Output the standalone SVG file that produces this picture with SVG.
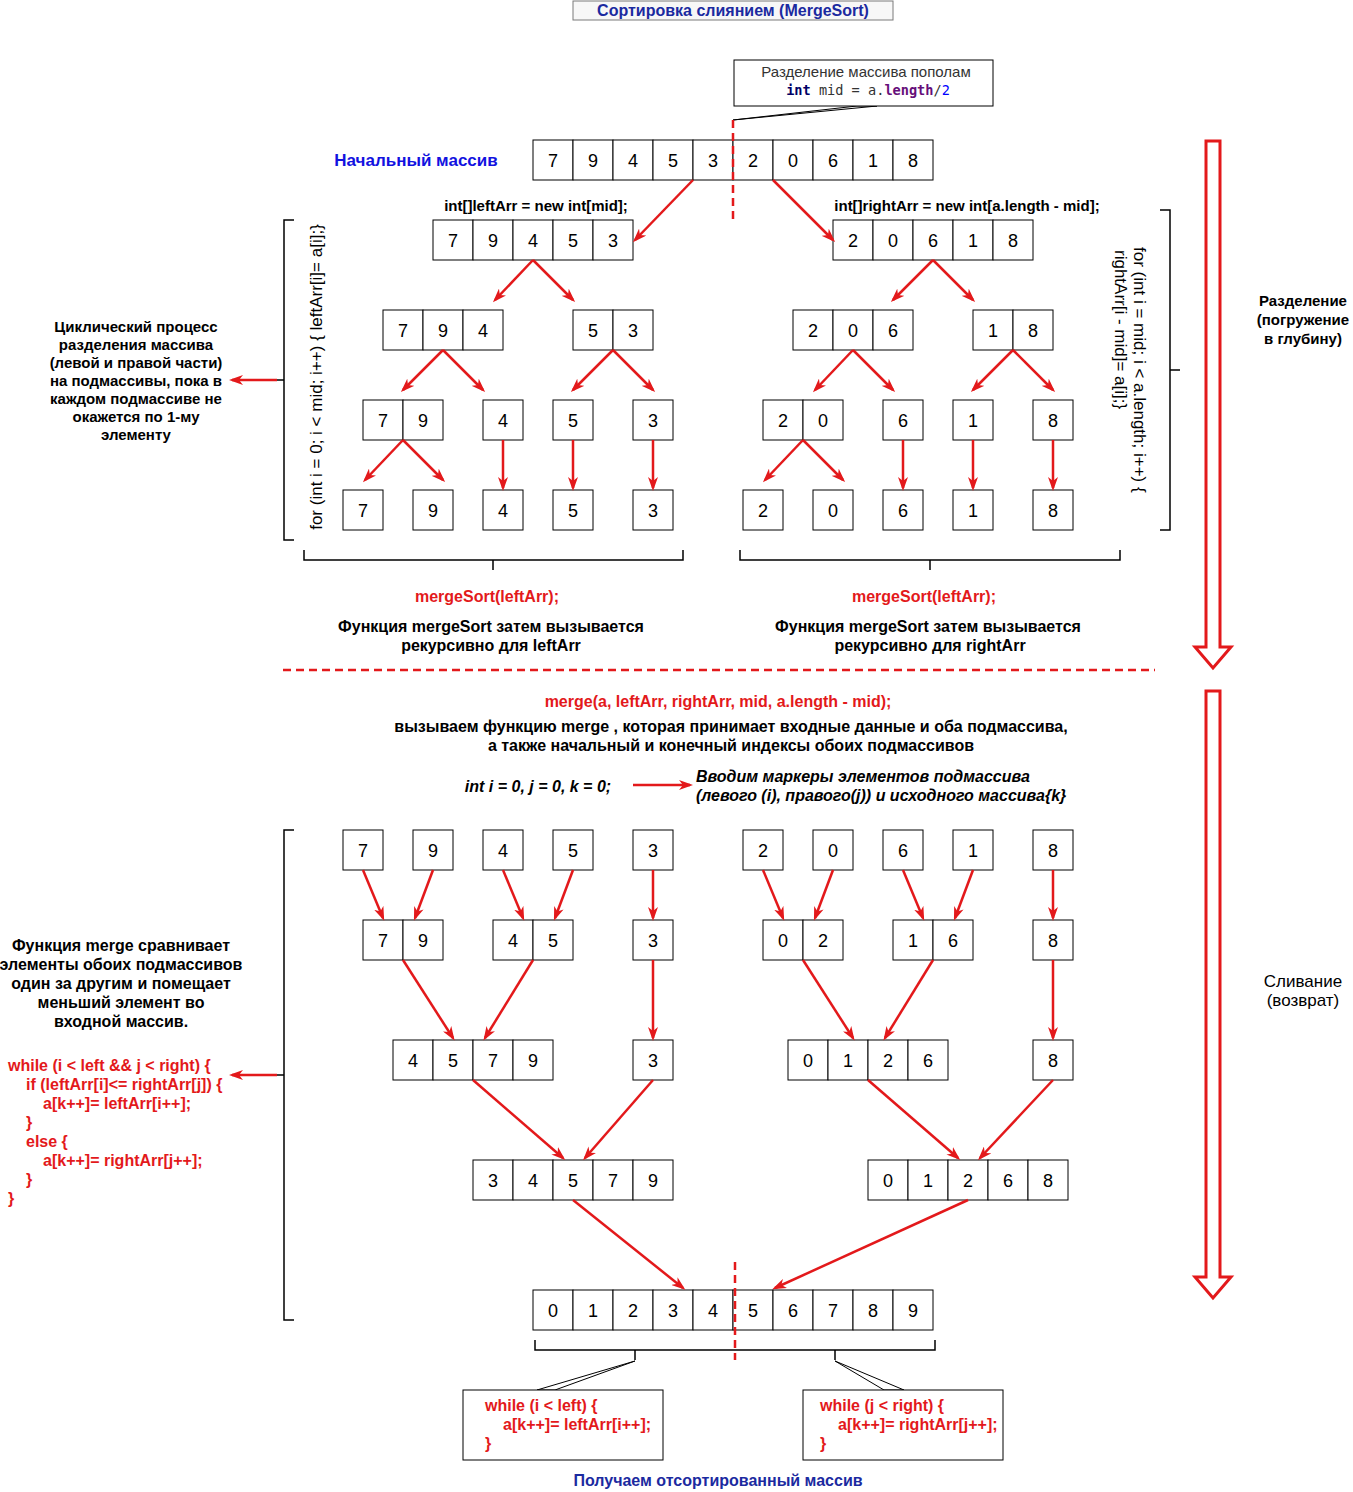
<svg xmlns="http://www.w3.org/2000/svg" width="1353" height="1492" viewBox="0 0 1353 1492">
<style>
text{font-family:"Liberation Sans",Arial,sans-serif;fill:#000}
.c{fill:#fff;stroke:#000;stroke-width:1}
.n{font-size:18px;text-anchor:middle}
.b{font-weight:bold}
.m{text-anchor:middle}
.r{fill:#e3191b}
.e{stroke:#e3191b;stroke-width:2.5;fill:none;marker-end:url(#ah)}
.k{stroke:#000;stroke-width:1.5;fill:none}
.d{stroke:#e3191b;stroke-width:2.5;stroke-dasharray:8 5;fill:none}
.box{fill:#fff;stroke:#000;stroke-width:1}
.big{fill:#fff;stroke:#e3191b;stroke-width:3}
.f16{font-size:16px}
.f15{font-size:15px}
</style>
<defs>
<marker id="ah" viewBox="0 0 14 10" refX="11" refY="5" markerWidth="14" markerHeight="10" orient="auto" markerUnits="userSpaceOnUse">
<path d="M0,0 L14,5 L0,10 L4,5 z" fill="#e3191b"/>
</marker>
</defs>
<rect width="1353" height="1492" fill="#fff"/>

<g id="title">
<rect x="573" y="1" width="320" height="19" fill="#f7f7f7" stroke="#7a7a7a" stroke-width="1"/>
<text x="733" y="16" class="m b f16" style="fill:#1b2aa0">Сортировка слиянием (MergeSort)</text>
</g>

<g id="callout-mid">
<polygon points="733,120 857,106 877,106" class="box"/>
<rect x="734" y="60" width="259" height="46" class="box"/>
<text x="866" y="77" class="m f15" style="fill:#333">Разделение массива пополам</text>
<text x="868" y="95" class="m" style="font-size:13.6px;font-family:'DejaVu Sans Mono','Liberation Mono',monospace;fill:#333"><tspan style="font-weight:bold;fill:#000066">int</tspan> mid = a.<tspan style="font-weight:bold;fill:#660e7a">length</tspan>/<tspan style="fill:#0000ff">2</tspan></text>
</g>

<g id="label-initial">
<text x="416" y="166" class="m b" style="font-size:17px;fill:#1212e0">Начальный массив</text>
</g>

<g id="arr-initial">
<rect x="533" y="140" width="40" height="40" class="c"/><rect x="573" y="140" width="40" height="40" class="c"/><rect x="613" y="140" width="40" height="40" class="c"/><rect x="653" y="140" width="40" height="40" class="c"/><rect x="693" y="140" width="40" height="40" class="c"/><rect x="733" y="140" width="40" height="40" class="c"/><rect x="773" y="140" width="40" height="40" class="c"/><rect x="813" y="140" width="40" height="40" class="c"/><rect x="853" y="140" width="40" height="40" class="c"/><rect x="893" y="140" width="40" height="40" class="c"/>
<text y="167" class="n"><tspan x="553">7</tspan><tspan x="593">9</tspan><tspan x="633">4</tspan><tspan x="673">5</tspan><tspan x="713">3</tspan><tspan x="753">2</tspan><tspan x="793">0</tspan><tspan x="833">6</tspan><tspan x="873">1</tspan><tspan x="913">8</tspan></text>
</g>

<g id="label-leftArr"><text x="536" y="211" class="m b f15">int[]leftArr = new int[mid];</text></g>
<g id="label-rightArr"><text x="967" y="211" class="m b f15">int[]rightArr = new int[a.length - mid];</text></g>

<g id="arr-left">
<rect x="433" y="220" width="40" height="40" class="c"/><rect x="473" y="220" width="40" height="40" class="c"/><rect x="513" y="220" width="40" height="40" class="c"/><rect x="553" y="220" width="40" height="40" class="c"/><rect x="593" y="220" width="40" height="40" class="c"/>
<text y="247" class="n"><tspan x="453">7</tspan><tspan x="493">9</tspan><tspan x="533">4</tspan><tspan x="573">5</tspan><tspan x="613">3</tspan></text>
</g>
<g id="arr-right">
<rect x="833" y="220" width="40" height="40" class="c"/><rect x="873" y="220" width="40" height="40" class="c"/><rect x="913" y="220" width="40" height="40" class="c"/><rect x="953" y="220" width="40" height="40" class="c"/><rect x="993" y="220" width="40" height="40" class="c"/>
<text y="247" class="n"><tspan x="853">2</tspan><tspan x="893">0</tspan><tspan x="933">6</tspan><tspan x="973">1</tspan><tspan x="1013">8</tspan></text>
</g>

<g id="s2-794">
<rect x="383" y="310" width="40" height="40" class="c"/><rect x="423" y="310" width="40" height="40" class="c"/><rect x="463" y="310" width="40" height="40" class="c"/>
<text y="337" class="n"><tspan x="403">7</tspan><tspan x="443">9</tspan><tspan x="483">4</tspan></text>
</g>
<g id="s2-53">
<rect x="573" y="310" width="40" height="40" class="c"/><rect x="613" y="310" width="40" height="40" class="c"/>
<text y="337" class="n"><tspan x="593">5</tspan><tspan x="633">3</tspan></text>
</g>
<g id="s2-206">
<rect x="793" y="310" width="40" height="40" class="c"/><rect x="833" y="310" width="40" height="40" class="c"/><rect x="873" y="310" width="40" height="40" class="c"/>
<text y="337" class="n"><tspan x="813">2</tspan><tspan x="853">0</tspan><tspan x="893">6</tspan></text>
</g>
<g id="s2-18">
<rect x="973" y="310" width="40" height="40" class="c"/><rect x="1013" y="310" width="40" height="40" class="c"/>
<text y="337" class="n"><tspan x="993">1</tspan><tspan x="1033">8</tspan></text>
</g>

<g id="s3-79">
<rect x="363" y="400" width="40" height="40" class="c"/><rect x="403" y="400" width="40" height="40" class="c"/>
<text y="427" class="n"><tspan x="383">7</tspan><tspan x="423">9</tspan></text>
</g>
<g id="s3-4"><rect x="483" y="400" width="40" height="40" class="c"/><text x="503" y="427" class="n">4</text></g>
<g id="s3-5"><rect x="553" y="400" width="40" height="40" class="c"/><text x="573" y="427" class="n">5</text></g>
<g id="s3-3"><rect x="633" y="400" width="40" height="40" class="c"/><text x="653" y="427" class="n">3</text></g>
<g id="s3-20">
<rect x="763" y="400" width="40" height="40" class="c"/><rect x="803" y="400" width="40" height="40" class="c"/>
<text y="427" class="n"><tspan x="783">2</tspan><tspan x="823">0</tspan></text>
</g>
<g id="s3-6"><rect x="883" y="400" width="40" height="40" class="c"/><text x="903" y="427" class="n">6</text></g>
<g id="s3-1"><rect x="953" y="400" width="40" height="40" class="c"/><text x="973" y="427" class="n">1</text></g>
<g id="s3-8"><rect x="1033" y="400" width="40" height="40" class="c"/><text x="1053" y="427" class="n">8</text></g>

<g id="s4-7"><rect x="343" y="490" width="40" height="40" class="c"/><text x="363" y="517" class="n">7</text></g>
<g id="s4-9"><rect x="413" y="490" width="40" height="40" class="c"/><text x="433" y="517" class="n">9</text></g>
<g id="s4-4"><rect x="483" y="490" width="40" height="40" class="c"/><text x="503" y="517" class="n">4</text></g>
<g id="s4-5"><rect x="553" y="490" width="40" height="40" class="c"/><text x="573" y="517" class="n">5</text></g>
<g id="s4-3"><rect x="633" y="490" width="40" height="40" class="c"/><text x="653" y="517" class="n">3</text></g>
<g id="s4-2"><rect x="743" y="490" width="40" height="40" class="c"/><text x="763" y="517" class="n">2</text></g>
<g id="s4-0"><rect x="813" y="490" width="40" height="40" class="c"/><text x="833" y="517" class="n">0</text></g>
<g id="s4-6"><rect x="883" y="490" width="40" height="40" class="c"/><text x="903" y="517" class="n">6</text></g>
<g id="s4-1"><rect x="953" y="490" width="40" height="40" class="c"/><text x="973" y="517" class="n">1</text></g>
<g id="s4-8"><rect x="1033" y="490" width="40" height="40" class="c"/><text x="1053" y="517" class="n">8</text></g>

<g id="brace-split-left">
<path d="M294,220 H284 V540 H294 M284,380 H277" class="k"/>
<text transform="translate(322,377) rotate(-90)" class="m" style="font-size:17px">for (int i = 0; i &lt; mid; i++) { leftArr[i]= a[i];}</text>
</g>
<g id="note-split">
<text class="m b f15"><tspan x="136" y="332">Циклический процесс</tspan><tspan x="136" y="350">разделения массива</tspan><tspan x="136" y="368">(левой и правой части)</tspan><tspan x="136" y="386">на подмассивы, пока в</tspan><tspan x="136" y="404">каждом подмассиве не</tspan><tspan x="136" y="422">окажется по 1-му</tspan><tspan x="136" y="440">элементу</tspan></text>
</g>
<g id="brace-split-right">
<path d="M1160,210 H1170 V530 H1160 M1170,370 H1180" class="k"/>
<text transform="translate(1134,247) rotate(90)" style="font-size:17px">for (int i = mid; i &lt; a.length; i++) {</text>
<text transform="translate(1115,250) rotate(90)" style="font-size:17px">rightArr[i - mid]= a[i];}</text>
</g>

<g id="arrow-split">
<polygon points="1206,141 1220,141 1220,647 1231,647 1213,668 1195,647 1206,647" class="big"/>
<text class="m b f15"><tspan x="1303" y="306">Разделение</tspan><tspan x="1303" y="325">(погружение</tspan><tspan x="1303" y="344">в глубину)</tspan></text>
</g>

<g id="brace-bottom-left">
<path d="M304,550 V560 H683 V550 M493,560 V570" class="k"/>
<text x="487" y="602" class="m b r f16">mergeSort(leftArr);</text>
<text class="m b f16"><tspan x="491" y="632">Функция mergeSort затем вызывается</tspan><tspan x="491" y="651">рекурсивно для leftArr</tspan></text>
</g>
<g id="brace-bottom-right">
<path d="M740,550 V560 H1120 V550 M930,560 V570" class="k"/>
<text x="924" y="602" class="m b r f16">mergeSort(leftArr);</text>
<text class="m b f16"><tspan x="928" y="632">Функция mergeSort затем вызывается</tspan><tspan x="930" y="651">рекурсивно для rightArr</tspan></text>
</g>

<g id="merge-intro">
<text x="718" y="707" class="m b r f16">merge(a, leftArr, rightArr, mid, a.length - mid);</text>
<text class="m b f16"><tspan x="731" y="732">вызываем функцию merge , которая принимает входные данные и оба подмассива,</tspan><tspan x="731" y="751">а также начальный и конечный индексы обоих подмассивов</tspan></text>
<text x="538" y="792" class="m b f16" style="font-style:italic">int i = 0, j = 0, k = 0;</text>
<text class="b f16" style="font-style:italic"><tspan x="696" y="782">Вводим маркеры элементов подмассива</tspan><tspan x="696" y="801">(левого (i), правого(j)) и исходного массива{k}</tspan></text>
</g>

<g id="arrow-merge">
<polygon points="1206,691 1220,691 1220,1277 1231,1277 1213,1298 1195,1277 1206,1277" class="big"/>
<text class="m" style="font-size:17px"><tspan x="1303" y="987">Сливание</tspan><tspan x="1303" y="1006">(возврат)</tspan></text>
</g>

<g id="m1-7"><rect x="343" y="830" width="40" height="40" class="c"/><text x="363" y="857" class="n">7</text></g>
<g id="m1-9"><rect x="413" y="830" width="40" height="40" class="c"/><text x="433" y="857" class="n">9</text></g>
<g id="m1-4"><rect x="483" y="830" width="40" height="40" class="c"/><text x="503" y="857" class="n">4</text></g>
<g id="m1-5"><rect x="553" y="830" width="40" height="40" class="c"/><text x="573" y="857" class="n">5</text></g>
<g id="m1-3"><rect x="633" y="830" width="40" height="40" class="c"/><text x="653" y="857" class="n">3</text></g>
<g id="m1-2"><rect x="743" y="830" width="40" height="40" class="c"/><text x="763" y="857" class="n">2</text></g>
<g id="m1-0"><rect x="813" y="830" width="40" height="40" class="c"/><text x="833" y="857" class="n">0</text></g>
<g id="m1-6"><rect x="883" y="830" width="40" height="40" class="c"/><text x="903" y="857" class="n">6</text></g>
<g id="m1-1"><rect x="953" y="830" width="40" height="40" class="c"/><text x="973" y="857" class="n">1</text></g>
<g id="m1-8"><rect x="1033" y="830" width="40" height="40" class="c"/><text x="1053" y="857" class="n">8</text></g>

<g id="m2-79">
<rect x="363" y="920" width="40" height="40" class="c"/><rect x="403" y="920" width="40" height="40" class="c"/>
<text y="947" class="n"><tspan x="383">7</tspan><tspan x="423">9</tspan></text>
</g>
<g id="m2-45">
<rect x="493" y="920" width="40" height="40" class="c"/><rect x="533" y="920" width="40" height="40" class="c"/>
<text y="947" class="n"><tspan x="513">4</tspan><tspan x="553">5</tspan></text>
</g>
<g id="m2-3"><rect x="633" y="920" width="40" height="40" class="c"/><text x="653" y="947" class="n">3</text></g>
<g id="m2-02">
<rect x="763" y="920" width="40" height="40" class="c"/><rect x="803" y="920" width="40" height="40" class="c"/>
<text y="947" class="n"><tspan x="783">0</tspan><tspan x="823">2</tspan></text>
</g>
<g id="m2-16">
<rect x="893" y="920" width="40" height="40" class="c"/><rect x="933" y="920" width="40" height="40" class="c"/>
<text y="947" class="n"><tspan x="913">1</tspan><tspan x="953">6</tspan></text>
</g>
<g id="m2-8"><rect x="1033" y="920" width="40" height="40" class="c"/><text x="1053" y="947" class="n">8</text></g>

<g id="m3-4579">
<rect x="393" y="1040" width="40" height="40" class="c"/><rect x="433" y="1040" width="40" height="40" class="c"/><rect x="473" y="1040" width="40" height="40" class="c"/><rect x="513" y="1040" width="40" height="40" class="c"/>
<text y="1067" class="n"><tspan x="413">4</tspan><tspan x="453">5</tspan><tspan x="493">7</tspan><tspan x="533">9</tspan></text>
</g>
<g id="m3-3"><rect x="633" y="1040" width="40" height="40" class="c"/><text x="653" y="1067" class="n">3</text></g>
<g id="m3-0126">
<rect x="788" y="1040" width="40" height="40" class="c"/><rect x="828" y="1040" width="40" height="40" class="c"/><rect x="868" y="1040" width="40" height="40" class="c"/><rect x="908" y="1040" width="40" height="40" class="c"/>
<text y="1067" class="n"><tspan x="808">0</tspan><tspan x="848">1</tspan><tspan x="888">2</tspan><tspan x="928">6</tspan></text>
</g>
<g id="m3-8"><rect x="1033" y="1040" width="40" height="40" class="c"/><text x="1053" y="1067" class="n">8</text></g>

<g id="m4-34579">
<rect x="473" y="1160" width="40" height="40" class="c"/><rect x="513" y="1160" width="40" height="40" class="c"/><rect x="553" y="1160" width="40" height="40" class="c"/><rect x="593" y="1160" width="40" height="40" class="c"/><rect x="633" y="1160" width="40" height="40" class="c"/>
<text y="1187" class="n"><tspan x="493">3</tspan><tspan x="533">4</tspan><tspan x="573">5</tspan><tspan x="613">7</tspan><tspan x="653">9</tspan></text>
</g>
<g id="m4-01268">
<rect x="868" y="1160" width="40" height="40" class="c"/><rect x="908" y="1160" width="40" height="40" class="c"/><rect x="948" y="1160" width="40" height="40" class="c"/><rect x="988" y="1160" width="40" height="40" class="c"/><rect x="1028" y="1160" width="40" height="40" class="c"/>
<text y="1187" class="n"><tspan x="888">0</tspan><tspan x="928">1</tspan><tspan x="968">2</tspan><tspan x="1008">6</tspan><tspan x="1048">8</tspan></text>
</g>

<g id="arr-sorted">
<rect x="533" y="1290" width="40" height="40" class="c"/><rect x="573" y="1290" width="40" height="40" class="c"/><rect x="613" y="1290" width="40" height="40" class="c"/><rect x="653" y="1290" width="40" height="40" class="c"/><rect x="693" y="1290" width="40" height="40" class="c"/><rect x="733" y="1290" width="40" height="40" class="c"/><rect x="773" y="1290" width="40" height="40" class="c"/><rect x="813" y="1290" width="40" height="40" class="c"/><rect x="853" y="1290" width="40" height="40" class="c"/><rect x="893" y="1290" width="40" height="40" class="c"/>
<text y="1317" class="n"><tspan x="553">0</tspan><tspan x="593">1</tspan><tspan x="633">2</tspan><tspan x="673">3</tspan><tspan x="713">4</tspan><tspan x="753">5</tspan><tspan x="793">6</tspan><tspan x="833">7</tspan><tspan x="873">8</tspan><tspan x="913">9</tspan></text>
</g>

<g id="brace-merge-left">
<path d="M294,830 H284 V1320 H294 M284,1075 H277" class="k"/>
</g>
<g id="note-merge">
<text class="m b f16"><tspan x="121" y="951">Функция merge сравнивает</tspan><tspan x="121" y="970">элементы обоих подмассивов</tspan><tspan x="121" y="989">один за другим и помещает</tspan><tspan x="121" y="1008">меньший элемент во</tspan><tspan x="121" y="1027">входной массив.</tspan></text>
<text class="b r f16"><tspan x="8" y="1071">while (i &lt; left &amp;&amp; j &lt; right) {</tspan><tspan x="26" y="1090">if (leftArr[i]&lt;= rightArr[j]) {</tspan><tspan x="43" y="1109">a[k++]= leftArr[i++];</tspan><tspan x="26" y="1128">}</tspan><tspan x="26" y="1147">else {</tspan><tspan x="43" y="1166">a[k++]= rightArr[j++];</tspan><tspan x="26" y="1185">}</tspan><tspan x="8" y="1204">}</tspan></text>
</g>

<g id="brace-sorted">
<path d="M535,1340 V1350 H935 V1340 M635,1350 V1360 M835,1350 V1360" class="k"/>
</g>
<g id="box-left-rest">
<polygon points="635,1361 537,1390 555,1390" class="box"/>
<rect x="463" y="1390" width="200" height="70" class="box"/>
<text class="b r f16"><tspan x="485" y="1411">while (i &lt; left) {</tspan><tspan x="503" y="1430">a[k++]= leftArr[i++];</tspan><tspan x="485" y="1449">}</tspan></text>
</g>
<g id="box-right-rest">
<polygon points="835,1361 884,1390 904,1390" class="box"/>
<rect x="803" y="1390" width="200" height="70" class="box"/>
<text class="b r f16"><tspan x="820" y="1411">while (j &lt; right) {</tspan><tspan x="838" y="1430">a[k++]= rightArr[j++];</tspan><tspan x="820" y="1449">}</tspan></text>
</g>
<g id="label-sorted">
<text x="718" y="1486" class="m b f16" style="fill:#1b2aa0">Получаем отсортированный массив</text>
</g>

<g id="dividers">
<path d="M733,120 V220" class="d"/>
<path d="M283,670 H1155" class="d"/>
<path d="M735,1262 V1360" class="d"/>
</g>

<g id="connectors">
<path d="M693,180 L635,240" class="e"/>
<path d="M773,180 L833,240" class="e"/>
<path d="M533,260 L495,300" class="e"/><path d="M533,260 L573,300" class="e"/>
<path d="M933,260 L893,300" class="e"/><path d="M933,260 L973,300" class="e"/>
<path d="M443,350 L403,390" class="e"/><path d="M443,350 L483,390" class="e"/>
<path d="M613,350 L573,390" class="e"/><path d="M613,350 L653,390" class="e"/>
<path d="M853,350 L815,390" class="e"/><path d="M853,350 L893,390" class="e"/>
<path d="M1013,350 L973,390" class="e"/><path d="M1013,350 L1053,390" class="e"/>
<path d="M403,440 L365,480" class="e"/><path d="M403,440 L443,480" class="e"/>
<path d="M503,440 L503,488" class="e"/>
<path d="M573,440 L573,488" class="e"/>
<path d="M653,440 L653,488" class="e"/>
<path d="M803,440 L765,480" class="e"/><path d="M803,440 L843,480" class="e"/>
<path d="M903,440 L903,488" class="e"/>
<path d="M973,440 L973,488" class="e"/>
<path d="M1053,440 L1053,488" class="e"/>
<path d="M277,380 L232,380" class="e"/>
<path d="M633,785 L690,785" class="e"/>
<path d="M363,870 L383,918" class="e"/><path d="M433,870 L415,918" class="e"/>
<path d="M503,870 L523,918" class="e"/><path d="M573,870 L555,918" class="e"/>
<path d="M653,870 L653,918" class="e"/>
<path d="M763,870 L783,918" class="e"/><path d="M833,870 L815,918" class="e"/>
<path d="M903,870 L923,918" class="e"/><path d="M973,870 L955,918" class="e"/>
<path d="M1053,870 L1053,918" class="e"/>
<path d="M403,960 L453,1038" class="e"/><path d="M533,960 L485,1038" class="e"/>
<path d="M653,960 L653,1038" class="e"/>
<path d="M803,960 L853,1038" class="e"/><path d="M933,960 L885,1038" class="e"/>
<path d="M1053,960 L1053,1038" class="e"/>
<path d="M473,1080 L563,1158" class="e"/><path d="M653,1080 L585,1158" class="e"/>
<path d="M868,1080 L958,1158" class="e"/><path d="M1053,1080 L980,1158" class="e"/>
<path d="M573,1200 L683,1288" class="e"/><path d="M968,1200 L775,1288" class="e"/>
<path d="M277,1075 L232,1075" class="e"/>
</g>
</svg>
